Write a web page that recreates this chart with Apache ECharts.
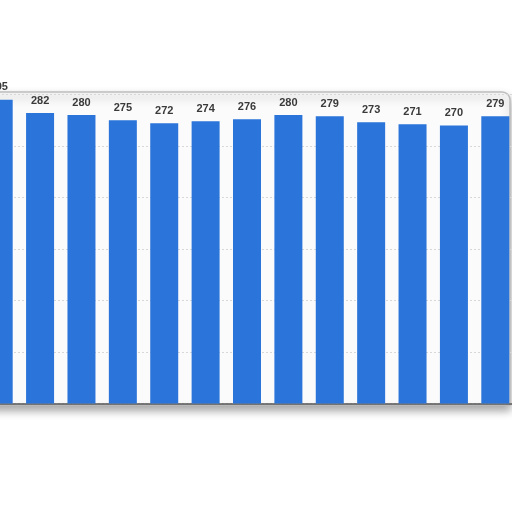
<!DOCTYPE html>
<html><head><meta charset="utf-8">
<script src="https://cdn.jsdelivr.net/npm/echarts@6/dist/echarts.min.js"></script>
<style>html,body{margin:0;padding:0;background:#fff;overflow:hidden}#c{width:538px;height:512px;margin-left:-22px}</style>
</head><body><div id="c"></div>
<script>
var categories = ['1','2','3','4','5','6','7','8','9','10','11','12','13'];
var values = [295, 282, 280, 275, 272, 274, 276, 280, 279, 273, 271, 270, 279];
var yTicks = [0, 50, 100, 150, 200, 250, 300];

var chart = echarts.init(document.getElementById('c'));
chart.setOption({
  animation: false,
  backgroundColor: '#ffffff',
  grid: { left: 0, right: 0, top: 94.5, bottom: 108.5, containLabel: false },
  graphic: [
    { type: 'rect', z: -10, silent: true,
      shape: { x: 0, y: 92, width: 532, height: 313, r: [0, 8, 0, 0] },
      style: { fill: '#fbfbfb', stroke: '#bdbdbd', lineWidth: 1.5,
        shadowBlur: 8, shadowColor: 'rgba(0,0,0,0.35)', shadowOffsetY: 5 } }
  ],
  xAxis: {
    type: 'category', data: categories,
    axisLine: { show: true, lineStyle: { color: '#555', width: 1.5 } },
    axisTick: { show: false }, axisLabel: { show: false }
  },
  yAxis: {
    type: 'value', min: yTicks[0], max: yTicks[yTicks.length - 1], interval: 50,
    axisLine: { show: false }, axisTick: { show: false }, axisLabel: { show: false },
    splitLine: { show: true, lineStyle: { color: '#d8d8d8', type: [2, 2] } }
  },
  series: [{
    type: 'bar', data: values, barWidth: 28,
    itemStyle: { color: '#2b74da' },
    label: { show: true, position: 'top', distance: 7, color: '#3a3a3a',
      fontFamily: 'Liberation Sans, Arial, sans-serif', fontWeight: 'bold', fontSize: 11 }
  }]
});
</script></body></html>
